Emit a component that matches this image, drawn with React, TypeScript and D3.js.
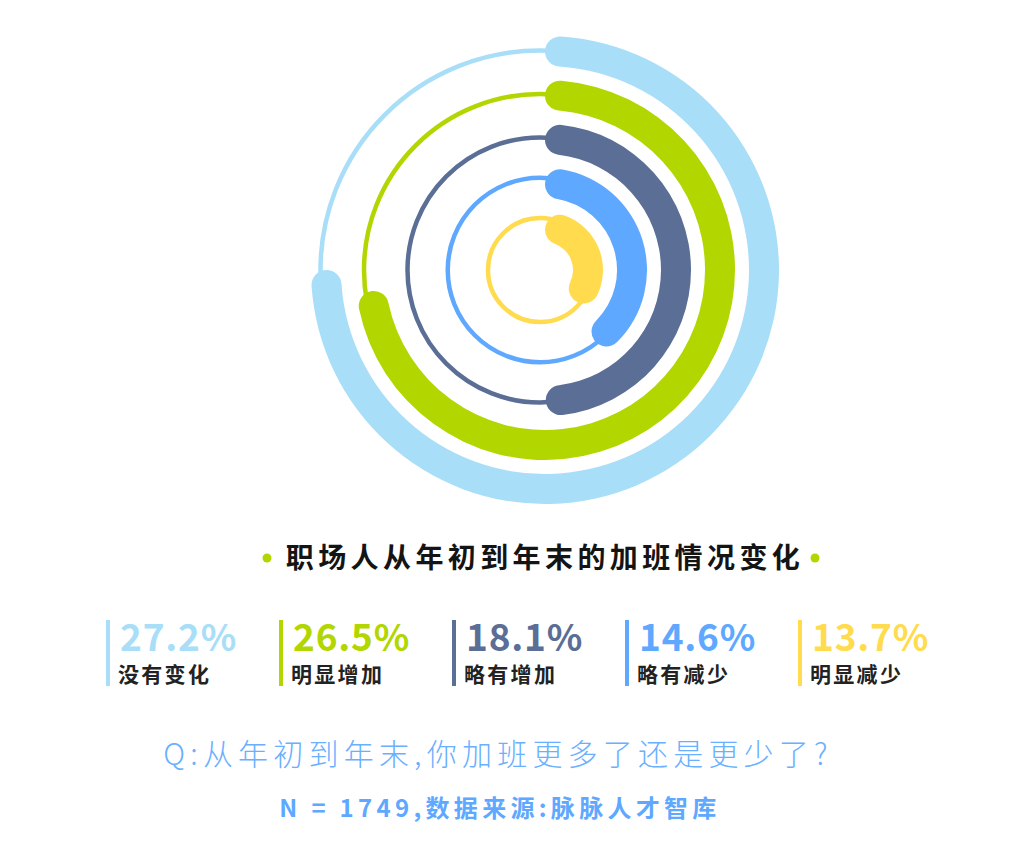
import React from 'react';
import * as d3 from 'd3';

const categories = ['没有变化', '明显增加', '略有增加', '略有减少', '明显减少'];
const values = [27.2, 26.5, 18.1, 14.6, 13.7];
const percentLabels = ['27.2%', '26.5%', '18.1%', '14.6%', '13.7%'];
const colors = ['#A8DEF8', '#B2D600', '#5B6E96', '#5EA8FF', '#FFDB4D'];
const titleText = '职场人从年初到年末的加班情况变化';
const questionText = 'Q:从年初到年末,你加班更多了还是更少了?';
const sourceText = 'N = 1749,数据来源:脉脉人才智库';

const W = 1022;
const H = 866;
const CX = 545;
const CY = 270;
const TRACK_CX = 540;
const BAND = 30;
const FONT = '"Noto Sans CJK SC", "Noto Sans", sans-serif';

export default function App() {
  const idx = values.map((_, i) => i);
  const angle = d3.scaleLinear().domain([0, d3.max(values) as number]).range([0, 1.5 * Math.PI]);
  const bandR = d3.scaleLinear().domain([0, values.length - 1]).range([219, 43]);
  const trackR = d3.scaleLinear().domain([0, 2, 4]).range([219.5, 132.5, 52]);
  const legendX = d3.scaleLinear().domain([0, values.length - 1]).range([108, 800]);
  const arc = d3
    .arc<number>()
    .innerRadius((i) => bandR(i) - BAND / 2)
    .outerRadius((i) => bandR(i) + BAND / 2)
    .startAngle(0)
    .endAngle((i) => angle(values[i]))
    .cornerRadius(BAND / 2);

  return (
    <svg width={W} height={H} style={{ position: 'absolute', left: 0, top: 0, background: '#fff' }}>
      <g>
        {idx.map((i) => (
          <circle key={'t' + i} cx={TRACK_CX} cy={CY} r={trackR(i)} fill="none" stroke={colors[i]} strokeWidth={4.5} />
        ))}
      </g>
      <g transform={`translate(${CX},${CY})`}>
        {idx.map((i) => (
          <path key={'b' + i} d={arc(i) as string} fill={colors[i]} />
        ))}
      </g>
      <g fontFamily={FONT}>
        <circle cx={267} cy={558} r={4.5} fill="#B2D600" />
        <circle cx={815} cy={558} r={4.5} fill="#B2D600" />
        <text x={545} y={568} textAnchor="middle" fontSize={28} fontWeight="bold" fill="#141414" letterSpacing={4.4}>
          {titleText}
        </text>
      </g>
      <g fontFamily={FONT}>
        {idx.map((i) => (
          <g key={'l' + i} transform={`translate(${legendX(i)},0)`}>
            <rect x={-2} y={620} width={4} height={66} fill={colors[i]} />
            <text x={12} y={651} fontSize={37} fontWeight="bold" fill={colors[i]} letterSpacing={0.8}>
              {percentLabels[i]}
            </text>
            <text x={10} y={682} fontSize={21} fontWeight="bold" fill="#222" letterSpacing={2.3}>
              {categories[i]}
            </text>
          </g>
        ))}
      </g>
      <g fontFamily={FONT}>
        <text x={498} y={765} textAnchor="middle" fontSize={30} fontWeight={300} fill="#6AB0FF" letterSpacing={5.2}>
          {questionText}
        </text>
        <text x={500} y={817} textAnchor="middle" fontSize={24} fontWeight="bold" fill="#5EA8FF" letterSpacing={4.3}>
          {sourceText}
        </text>
      </g>
    </svg>
  );
}
